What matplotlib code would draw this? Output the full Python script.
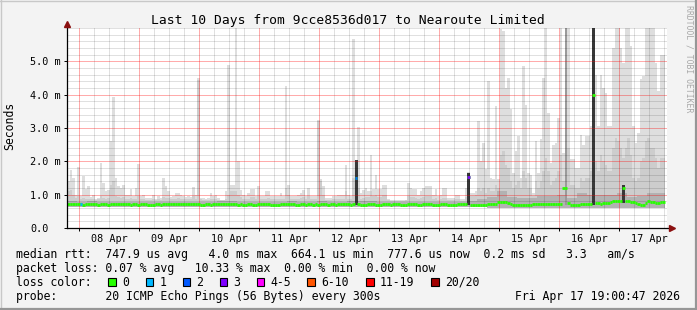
import numpy as np
import matplotlib
matplotlib.use('Agg')
import matplotlib.pyplot as plt
from matplotlib.patches import Rectangle
from matplotlib.lines import Line2D

# one value per hour, hour 0 = Apr 07 19:00:47, values in ms
smoke_max = [
    1.40, 1.74, 1.50, 1.00, 1.82, 0.95, 1.56, 1.16, 1.26, 0.92, 1.00, 0.88, 0.90, 1.96, 1.36, 1.10, 1.15, 2.60, 3.93, 1.50, 1.26, 1.20, 1.30, 1.00,
    1.00, 1.16, 0.96, 1.20, 1.93, 0.96, 1.00, 0.90, 0.90, 0.90, 1.00, 0.86, 0.96, 0.90, 1.50, 1.26, 1.10, 0.93, 0.95, 1.06, 1.06, 1.00, 0.95, 0.93,
    0.95, 0.93, 1.23, 1.00, 4.50, 0.90, 0.90, 0.88, 0.90, 1.06, 0.95, 1.00, 0.90, 0.85, 0.85, 1.10, 4.90, 1.30, 1.30, 6.00, 2.00, 1.15, 1.00, 0.95,
    1.05, 1.16, 1.16, 0.95, 1.26, 0.95, 0.95, 1.10, 1.10, 0.95, 0.95, 0.95, 0.95, 1.05, 0.95, 4.26, 1.30, 0.95, 0.95, 0.95, 1.00, 1.05, 1.15, 0.95,
    1.20, 0.95, 0.95, 0.95, 3.23, 1.46, 1.26, 0.90, 0.90, 0.90, 0.95, 0.95, 1.00, 1.00, 1.00, 1.90, 1.00, 0.95, 5.66, 2.04, 3.03, 1.06, 1.15, 1.20,
    1.10, 2.20, 1.16, 1.60, 1.16, 1.16, 1.30, 1.30, 0.86, 0.85, 0.85, 0.85, 0.85, 0.85, 0.85, 0.85, 1.36, 1.20, 1.16, 1.16, 1.00, 1.10, 1.20, 1.26,
    1.26, 1.26, 1.00, 1.16, 0.96, 1.00, 1.20, 1.20, 0.90, 0.90, 0.90, 1.00, 1.00, 0.86, 0.86, 1.20, 1.68, 1.06, 1.06, 1.10, 3.20, 2.00, 2.56, 1.76,
    4.40, 1.50, 1.46, 3.66, 1.46, 5.96, 5.90, 4.20, 4.50, 3.56, 1.66, 2.30, 2.76, 1.50, 4.86, 3.70, 1.66, 1.60, 1.06, 2.60, 1.66, 2.66, 4.50, 6.00,
    3.46, 1.96, 2.50, 2.56, 3.30, 6.00, 2.26, 6.00, 6.00, 2.06, 2.06, 1.80, 1.80, 2.80, 2.50, 2.76, 2.76, 3.06, 6.00, 4.60, 3.06, 4.60, 4.20, 4.06,
    3.06, 3.06, 5.40, 6.00, 6.00, 5.40, 4.96, 6.00, 6.00, 5.46, 3.06, 2.56, 2.86, 4.46, 4.56, 6.00, 6.00, 6.00, 6.00, 4.96, 4.10, 5.20, 5.20,
]

smoke_mid = [
    1.10, 1.15, 1.00, 0.90, 0.95, 0.86, 0.90, 0.88, 0.88, 0.86, 0.86, 0.85, 0.86, 0.95, 0.90, 0.88, 0.90, 1.30, 1.40, 0.95, 0.92, 0.90, 0.92, 0.88,
    0.88, 0.90, 0.86, 0.88, 0.95, 0.86, 0.86, 0.85, 0.85, 0.85, 0.86, 0.84, 0.86, 0.85, 0.92, 0.90, 0.90, 0.86, 0.86, 0.88, 0.90, 0.88, 0.86, 0.86,
    0.86, 0.86, 0.95, 0.88, 4.45, 0.86, 0.85, 0.85, 0.85, 0.88, 0.86, 0.86, 0.85, 0.84, 0.84, 0.88, 1.00, 1.10, 1.10, 1.10, 1.00, 0.92, 0.88, 0.86,
    0.88, 0.92, 0.92, 0.86, 0.95, 0.86, 0.86, 0.88, 0.90, 0.86, 0.86, 0.86, 0.86, 0.88, 0.86, 1.20, 1.00, 0.86, 0.86, 0.86, 0.88, 0.90, 0.92, 0.86,
    0.95, 0.86, 0.86, 0.86, 3.20, 1.40, 1.00, 0.84, 0.84, 0.84, 0.86, 0.86, 0.88, 0.88, 0.88, 1.10, 0.88, 0.86, 1.50, 1.20, 1.20, 0.88, 0.90, 0.92,
    0.92, 1.10, 0.95, 1.00, 0.92, 0.92, 1.00, 1.00, 0.84, 0.82, 0.82, 0.82, 0.82, 0.82, 0.82, 0.84, 0.95, 0.92, 0.92, 0.90, 0.88, 0.90, 0.92, 0.95,
    0.95, 0.95, 0.86, 0.90, 0.84, 0.86, 0.90, 0.90, 0.84, 0.84, 0.84, 0.86, 0.86, 0.82, 0.82, 0.92, 1.20, 0.95, 0.95, 1.00, 1.20, 1.10, 1.20, 1.05,
    1.20, 1.10, 1.10, 1.30, 1.20, 2.20, 2.30, 1.90, 1.80, 1.40, 1.20, 1.30, 1.40, 1.20, 1.70, 1.50, 1.20, 1.20, 0.95, 1.40, 1.20, 1.40, 1.70, 2.10,
    1.70, 1.30, 1.40, 1.50, 1.70, 2.20, 1.40, 2.60, 2.40, 1.30, 1.30, 1.20, 1.20, 1.50, 1.40, 1.50, 1.50, 1.70, 2.40, 2.00, 1.70, 2.20, 2.00, 1.90,
    1.70, 1.70, 2.40, 2.70, 2.60, 2.40, 2.10, 2.40, 2.70, 2.20, 1.50, 1.40, 1.50, 2.00, 2.10, 2.60, 2.70, 2.40, 2.40, 2.10, 1.80, 2.10, 2.10,
]

median_rtt = [
    0.72, 0.72, 0.71, 0.72, 0.71, 0.71, 0.70, 0.71, 0.71, 0.71, 0.72, 0.71, 0.70, 0.71, 0.71, 0.71, 0.70, 0.71, 0.72, 0.71, 0.71, 0.71, 0.72, 0.71,
    0.71, 0.70, 0.71, 0.71, 0.70, 0.71, 0.71, 0.71, 0.70, 0.69, 0.70, 0.71, 0.71, 0.70, 0.71, 0.72, 0.71, 0.71, 0.72, 0.71, 0.71, 0.72, 0.71, 0.71,
    0.71, 0.72, 0.71, 0.72, 0.71, 0.70, 0.70, 0.71, 0.71, 0.70, 0.71, 0.71, 0.72, 0.72, 0.71, 0.71, 0.72, 0.72, 0.71, 0.71, 0.70, 0.71, 0.70, 0.70,
    0.71, 0.71, 0.70, 0.70, 0.71, 0.71, 0.72, 0.71, 0.71, 0.70, 0.69, 0.70, 0.70, 0.71, 0.71, 0.71, 0.72, 0.71, 0.71, 0.70, 0.70, 0.71, 0.71, 0.70,
    0.71, 0.71, 0.70, 0.71, 0.70, 0.71, 0.71, 0.71, 0.70, 0.71, 0.71, 0.70, 0.71, 0.71, 0.71, 0.71, 0.71, 0.70, 0.71, 1.49, 0.71, 0.70, 0.70, 0.70,
    0.71, 0.71, 0.71, 0.70, 0.70, 0.70, 0.71, 0.71, 0.71, 0.70, 0.71, 0.71, 0.71, 0.70, 0.70, 0.70, 0.71, 0.71, 0.71, 0.71, 0.70, 0.70, 0.71, 0.71,
    0.71, 0.71, 0.70, 0.70, 0.70, 0.71, 0.71, 0.71, 0.70, 0.68, 0.68, 0.70, 0.71, 0.71, 0.71, 0.71, 1.54, 0.70, 0.70, 0.69, 0.70, 0.68, 0.68, 0.70,
    0.71, 0.71, 0.71, 0.72, 0.77, 0.79, 0.79, 0.78, 0.75, 0.72, 0.69, 0.68, 0.68, 0.70, 0.70, 0.70, 0.70, 0.70, 0.71, 0.71, 0.71, 0.71, 0.71, 0.72,
    0.72, 0.72, 0.72, 0.72, 0.72, 0.72, 1.19, 1.19, 0.74, 0.70, 0.68, 0.68, 0.68, 0.71, 0.72, 0.73, 0.73, 0.73, 4.00, 0.75, 0.76, 0.73, 0.75, 0.76,
    0.76, 0.77, 0.80, 0.80, 0.80, 0.80, 1.21, 0.82, 0.82, 0.78, 0.78, 0.74, 0.72, 0.70, 0.70, 0.74, 0.80, 0.78, 0.78, 0.76, 0.76, 0.77, 0.77,
]

# lowest ping, one value per day
smoke_min_day = [0.64, 0.64, 0.64, 0.64, 0.64, 0.64, 0.62, 0.60, 0.60, 0.60]
# top of the dense band around the median, one value per 4 hours
dense_top_4h = [
    0.80, 0.79, 0.80, 0.79, 0.79, 0.79,
    0.79, 0.79, 0.79, 0.79, 0.79, 0.79,
    0.79, 0.79, 0.79, 0.80, 0.82, 0.79,
    0.79, 0.79, 0.79, 0.79, 0.80, 0.79,
    0.79, 0.82, 0.79, 0.79, 0.82, 0.80,
    0.80, 0.79, 0.79, 0.78, 0.79, 0.79,
    0.79, 0.79, 0.78, 0.78, 0.82, 0.88,
    0.92, 1.10, 0.92, 0.90, 0.90, 0.95,
    0.95, 1.00, 0.90, 1.05, 1.00, 1.00,
    1.00, 1.05, 0.92, 0.95, 1.05, 1.05,
]

# hours where (nearly) all pings sat in one tall band
black_hours = [115, 160, 210, 222]
black_bottom = [0.70, 0.70, 0.70, 0.75]
black_top = [2.04, 1.66, 6.00, 1.30]
grey_hours = [199]
grey_bottom = [0.70]
grey_top = [6.00]

# hours with packet loss and the number of lost pings
loss_hours = [5, 115, 160]
loss_pings = [1, 2, 3]

loss_labels = ['0', '1', '2', '3', '4-5', '6-10', '11-19', '20/20']
loss_colors = ['#26ff00', '#00b8ff', '#0059ff', '#7e00ff', '#ff00ff', '#ff5500', '#ff0000', '#a10000']

day_labels = ['08 Apr', '09 Apr', '10 Apr', '11 Apr', '12 Apr',
              '13 Apr', '14 Apr', '15 Apr', '16 Apr', '17 Apr']
y_labels = ['0.0', '1.0 m', '2.0 m', '3.0 m', '4.0 m', '5.0 m']

MONO = 'DejaVu Sans Mono'
W, H = 697, 310
X_END, Y_END = 240, 6.0    # hours, ms

n = len(smoke_max)
edges = np.arange(n + 1)
smoke_min = np.repeat(smoke_min_day, 24)[:n]
dense_top = np.repeat(dense_top_4h, 4)[:n]
first_midnight = 5 - 47 / 3600

fig = plt.figure(figsize=(W / 100, H / 100), dpi=100, facecolor='#f3f3f3')
ax = fig.add_axes([67 / W, 82 / H, 600 / W, 200 / H])
ax.set_facecolor('white')
ax.set_xlim(0, X_END)
ax.set_ylim(0, Y_END)
for s in ax.spines.values():
    s.set_visible(False)

# smoke
ax.stairs(smoke_max, edges, baseline=smoke_min, fill=True, color='#dedede', lw=0, zorder=1)
ax.stairs(smoke_mid, edges, baseline=smoke_min, fill=True, color='#cdcdcd', lw=0, zorder=1.1)
ax.stairs(dense_top, edges, baseline=smoke_min, fill=True, color='#b2b2b2', lw=0, zorder=1.2)
ax.bar(grey_hours, np.array(grey_top) - np.array(grey_bottom), bottom=grey_bottom,
       width=1.0, align='edge', color='#9a9a9a', lw=0, zorder=1.3)
ax.bar(black_hours, np.array(black_top) - np.array(black_bottom), bottom=black_bottom,
       width=1.3, align='edge', color='#383838', lw=0, zorder=1.4)

# grid: thin 1px lines, pale grey every 6 h / 0.2 ms, pink at midnight / 1 ms
minor_col = (0, 0, 0, 0.12)
major_col = (1, 0, 0, 0.33)
for k in range(40):
    h = first_midnight + 6 * k
    if h >= X_END:
        break
    ax.axvline(h, color=major_col if k % 4 == 0 else minor_col, lw=0.72,
               antialiased=False, zorder=2)
for k in range(1, 31):
    ax.axhline(0.2 * k, color=major_col if (k % 5 == 0 and k < 30) else minor_col,
               lw=0.72, antialiased=False, zorder=2)

# median line
ax.hlines(median_rtt, edges[:-1], edges[1:], colors=loss_colors[0], lw=2.0, zorder=3)
for h, p in zip(loss_hours, loss_pings):
    ax.hlines(median_rtt[h], h, h + 1, colors=loss_colors[p], lw=2.0, zorder=3.1)

# axes with arrows
ax.plot([0, 0], [0, 1.012], transform=ax.transAxes, color='black', lw=0.9, clip_on=False, zorder=4)
ax.plot([0, 1.006], [0, 0], transform=ax.transAxes, color='black', lw=0.9, clip_on=False, zorder=4)
ax.plot([0], [1.022], transform=ax.transAxes, marker='^', ms=4, color='#8b1010', clip_on=False, zorder=5)
ax.plot([1.008], [0], transform=ax.transAxes, marker='>', ms=4, color='#8b1010', clip_on=False, zorder=5)

# ticks
ax.set_yticks(range(6))
ax.set_yticklabels(y_labels, fontfamily=MONO, fontsize=7.3)
ax.tick_params(axis='y', length=2.2, width=0.7, pad=24.4, direction='out')
for lbl in ax.get_yticklabels():
    lbl.set_horizontalalignment('left')
ax.set_xticks(first_midnight + 24 * np.arange(10))
ax.set_xticklabels([])
ax.set_xticks(first_midnight + 12 + 24 * np.arange(10), minor=True)
ax.set_xticklabels(day_labels, minor=True, fontfamily=MONO, fontsize=7.3)
ax.tick_params(axis='x', which='major', length=2.2, width=0.7, direction='out')
ax.tick_params(axis='x', which='minor', length=0, pad=4.4)

# texts
def fx(x):
    return x / W

def fy(y):
    return 1 - y / H

fig.text(fx(348), fy(24), 'Last 10 Days from 9cce8536d017 to Nearoute Limited',
         ha='center', va='baseline', fontfamily=MONO, fontsize=9.35)
fig.text(fx(10), fy(126), 'Seconds', rotation=90, ha='center', va='center',
         fontfamily=MONO, fontsize=8.3)
fig.text(fx(688.5), fy(59), 'RRDTOOL / TOBI OETIKER', rotation=270, ha='center', va='center',
         fontfamily=MONO, fontsize=5.9, color='#a8a8a8')

rows = [
    'median rtt:  747.9 us avg   4.0 ms max  664.1 us min  777.6 us now  0.2 ms sd   3.3   am/s',
    'packet loss: 0.07 % avg   10.33 % max  0.00 % min  0.00 % now',
    'loss color:',
    'probe:       20 ICMP Echo Pings (56 Bytes) every 300s',
]
for i, row in enumerate(rows):
    fig.text(fx(16), fy(257.7 + 14 * i), row, ha='left', va='baseline',
             fontfamily=MONO, fontsize=8.3)
fig.text(fx(680), fy(257.7 + 42), 'Fri Apr 17 19:00:47 2026', ha='right', va='baseline',
         fontfamily=MONO, fontsize=8.3)

box_x = [108, 145.5, 182.5, 219.5, 256.5, 307, 366, 431]
for bx, lab, col in zip(box_x, loss_labels, loss_colors):
    fig.add_artist(Rectangle((fx(bx), fy(285.5)), 7.5 / W, 7.5 / H, facecolor=col,
                             edgecolor='black', lw=0.8))
    fig.text(fx(bx + 14), fy(285.7), lab, ha='left', va='baseline',
             fontfamily=MONO, fontsize=8.3)

# frame
fig.add_artist(Line2D([0, 1], [fy(0.5), fy(0.5)], color='#c8c8c8', lw=1.0))
fig.add_artist(Line2D([fx(0.5), fx(0.5)], [0, 1], color='#c8c8c8', lw=1.0))
fig.add_artist(Line2D([0, 1], [fy(309), fy(309)], color='#969696', lw=1.6))
fig.add_artist(Line2D([fx(696), fx(696)], [0, 1], color='#969696', lw=1.6))

fig.savefig('out.png', dpi=100, facecolor=fig.get_facecolor())
